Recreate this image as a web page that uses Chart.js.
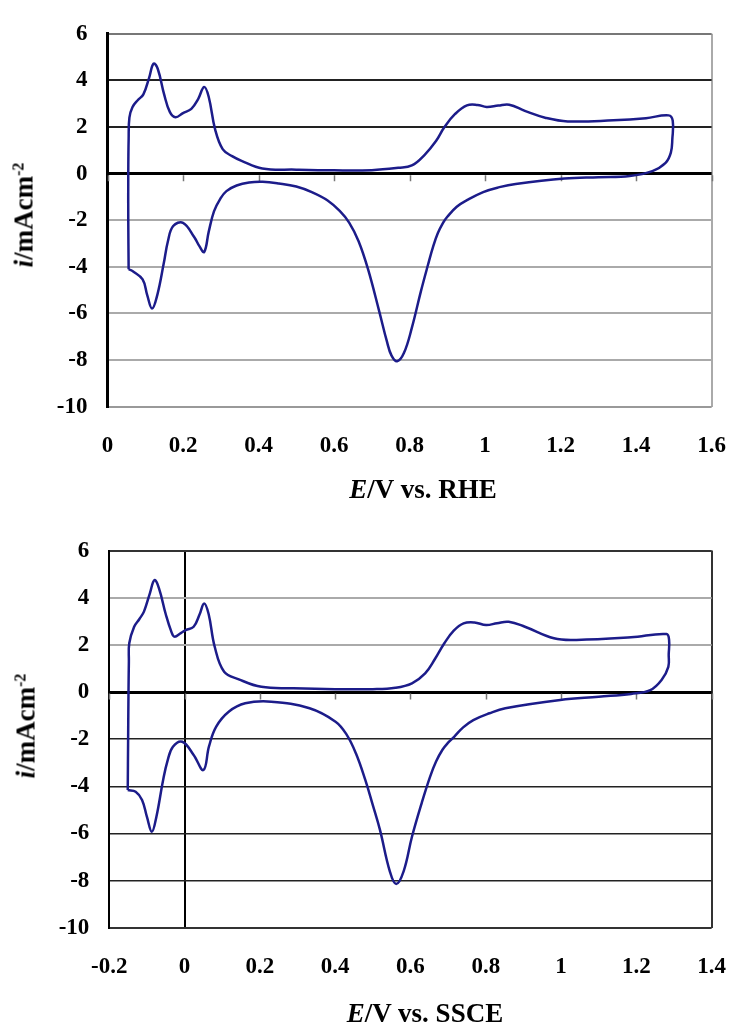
<!DOCTYPE html>
<html lang="en">

<head>
    <meta charset="UTF-8">
    <meta name="viewport" content="width=device-width, initial-scale=1.0">
    <title>CV</title>
    <script src="https://cdn.jsdelivr.net/npm/chart.js"></script>
    <style>
        body { margin: 0; background: #fff; width: 752px; height: 1028px; position: relative; overflow: hidden; }
        canvas { position: absolute; left: 0; }
        .titulo { position: absolute; font-family: "Liberation Serif", "Times New Roman", serif; font-weight: bold; font-size: 27px; color: #000; white-space: nowrap; transform: translate(-50%, -50%); }
        .tituloY { transform: translate(-50%, -50%) rotate(-90deg); }
        .titulo i { font-style: italic; }
        .titulo sup { font-size: 16px; vertical-align: 9px; }
    </style>
</head>

<body>
    <canvas id="grafico1" width="752" height="515" style="top:0"></canvas>
    <canvas id="grafico2" width="752" height="513" style="top:515px"></canvas>

    <div class="titulo" style="left:423px; top:489px"><i>E</i>/V vs. RHE</div>
    <div class="titulo tituloY" style="left:24px; top:215px"><i>i</i>/mAcm<sup>-2</sup></div>
    <div class="titulo" style="left:425px; top:1013px"><i>E</i>/V vs. SSCE</div>
    <div class="titulo tituloY" style="left:26px; top:726px"><i>i</i>/mAcm<sup>-2</sup></div>

    <script>
        // top plot, potential vs RHE
        const rheE = [0.056, 0.055, 0.055, 0.056, 0.058, 0.066, 0.080, 0.095, 0.110, 0.122, 0.133, 0.150, 0.165, 0.180, 0.200,
            0.222, 0.240, 0.256, 0.268, 0.285, 0.305, 0.330, 0.355, 0.410, 0.500, 0.600, 0.700, 0.770, 0.806, 0.840,
            0.870, 0.892, 0.920, 0.952, 0.980, 1.004, 1.035, 1.064, 1.107, 1.159, 1.219, 1.340, 1.426, 1.486,
            1.497, 1.496, 1.492, 1.478, 1.443, 1.383, 1.300, 1.210, 1.081, 1.038, 0.995, 0.952, 0.925, 0.900, 0.889,
            0.875, 0.862, 0.849, 0.830, 0.806, 0.785, 0.767, 0.752, 0.740, 0.720, 0.690, 0.665, 0.640, 0.615, 0.583, 0.541,
            0.500, 0.454, 0.411, 0.375, 0.342, 0.315, 0.299, 0.282, 0.268, 0.256, 0.243, 0.230, 0.200, 0.174, 0.160,
            0.149, 0.132, 0.118, 0.105, 0.093, 0.067, 0.056];
        const rheI = [-4.1, -2.0, 0.0, 1.5, 2.4, 2.85, 3.15, 3.4, 4.1, 4.72, 4.5, 3.4, 2.65, 2.42, 2.6,
            2.78, 3.2, 3.72, 3.3, 1.9, 1.05, 0.75, 0.55, 0.22, 0.17, 0.14, 0.15, 0.25, 0.35, 0.81,
            1.4, 1.99, 2.55, 2.93, 2.95, 2.86, 2.92, 2.96, 2.68, 2.4, 2.24, 2.29, 2.38, 2.5,
            2.27, 1.5, 0.9, 0.46, 0.11, -0.1, -0.15, -0.21, -0.44, -0.58, -0.79, -1.14, -1.42, -1.85, -2.1,
            -2.55, -3.15, -3.9, -5.05, -6.62, -7.7, -8.05, -7.8, -7.2, -5.93, -4.1, -2.9, -2.1, -1.6, -1.15, -0.79,
            -0.55, -0.42, -0.35, -0.38, -0.51, -0.75, -1.07, -1.62, -2.5, -3.36, -3.1, -2.73, -2.11, -2.25, -2.9,
            -3.85, -5.2, -5.79, -5.2, -4.54, -4.19, -4.1];

        // bottom plot, potential vs SSCE
        const ssceE = [-0.151, -0.150, -0.149, -0.148, -0.147, -0.134, -0.120, -0.108, -0.092, -0.080, -0.068, -0.050, -0.035,
            -0.027, -0.010, 0.003, 0.024, 0.040, 0.052, 0.064, 0.080, 0.105, 0.144, 0.204, 0.289, 0.400, 0.500,
            0.560, 0.604, 0.639, 0.665, 0.690, 0.715, 0.741, 0.770, 0.801, 0.830, 0.861, 0.904, 0.981, 1.041,
            1.186, 1.280, 1.287, 1.286, 1.285, 1.267, 1.237, 1.186, 1.100, 0.998, 0.852, 0.810, 0.767, 0.740, 0.716,
            0.700, 0.685, 0.668, 0.652, 0.630, 0.604, 0.582, 0.562, 0.545, 0.519, 0.500, 0.480, 0.455, 0.430, 0.401,
            0.332, 0.230, 0.161, 0.118, 0.084, 0.065, 0.050, 0.024, -0.006, -0.031, -0.045, -0.057, -0.075, -0.087,
            -0.100, -0.113, -0.130, -0.151];
        const ssceI = [-4.16, -2.0, 0.0, 1.3, 2.07, 2.77, 3.1, 3.41, 4.2, 4.75, 4.4, 3.3, 2.55,
            2.35, 2.5, 2.63, 2.77, 3.3, 3.76, 3.3, 1.92, 0.86, 0.54, 0.22, 0.16, 0.12, 0.12,
            0.18, 0.37, 0.79, 1.4, 2.07, 2.6, 2.91, 2.95, 2.84, 2.92, 2.98, 2.77, 2.28, 2.21,
            2.32, 2.46, 2.21, 1.6, 1.07, 0.51, 0.08, -0.08, -0.2, -0.34, -0.69, -0.9, -1.19, -1.5, -1.9,
            -2.15, -2.45, -2.95, -3.6, -4.7, -6.14, -7.6, -8.15, -7.6, -5.85, -4.8, -3.73, -2.6, -1.8, -1.26,
            -0.69, -0.41, -0.48, -0.83, -1.47, -2.3, -3.31, -2.67, -2.11, -2.32, -2.9, -3.73, -5.3, -5.93,
            -5.3, -4.58, -4.23, -4.16];

        const fonteTicks = { family: "'Liberation Serif', 'Times New Roman', serif", size: 23, weight: 'bold' };
        const corCurva = '#1c1c8a';

        function montarPontos(listaE, listaI) {
            let pontos = [];
            for (var index = 0; index < listaE.length; index++) {
                pontos.push({ x: listaE[index], y: listaI[index] });
            }
            return pontos;
        }

        // 1.0 -> "1", -0.0 -> "0"
        function formatarTick(valor) {
            return Number(valor.toFixed(1)).toString();
        }

        // small tick marks hanging under the i = 0 line, like Excel
        const marcasNoZero = {
            id: 'marcasNoZero',
            beforeDatasetsDraw(chart) {
                const sx = chart.scales.x;
                const y0 = chart.scales.y.getPixelForValue(0);
                const c = chart.ctx;
                c.save();
                c.strokeStyle = '#777';
                c.lineWidth = 1.5;
                c.beginPath();
                sx.ticks.forEach(function (t) {
                    const px = Math.round(sx.getPixelForValue(t.value)) + 0.5;
                    c.moveTo(px, y0 + 1.5);
                    c.lineTo(px, y0 + 7.5);
                });
                c.stroke();
                c.restore();
            }
        };

        function plotarGrafico(id, pontos, cfg) {
            const ctx = document.getElementById(id).getContext('2d');
            new Chart(ctx, {
                type: 'scatter',
                data: {
                    datasets: [{
                        data: pontos,
                        showLine: true,
                        borderColor: corCurva,
                        borderWidth: 2.5,
                        pointRadius: 0,
                        tension: 0.4,
                        fill: false
                    }]
                },
                plugins: [marcasNoZero],
                options: {
                    responsive: false,
                    animation: false,
                    layout: { padding: { top: cfg.padTop, right: cfg.padRight, left: 0, bottom: 0 } },
                    plugins: { legend: { display: false }, tooltip: { enabled: false } },
                    scales: {
                        x: {
                            type: 'linear',
                            position: 'bottom',
                            min: cfg.xMin,
                            max: cfg.xMax,
                            ticks: { stepSize: 0.2, color: '#000', font: fonteTicks, padding: 26, maxRotation: 0, callback: formatarTick },
                            grid: {
                                drawTicks: false,
                                color: (c) => cfg.corX(c.tick.value),
                                lineWidth: 2
                            },
                            border: { display: false },
                            afterFit: (s) => { s.height = cfg.alturaX; }
                        },
                        y: {
                            min: -10,
                            max: 6,
                            ticks: { stepSize: 2, color: '#000', font: fonteTicks, padding: 20 },
                            grid: {
                                drawTicks: false,
                                color: (c) => cfg.corY(c.tick.value)[0],
                                lineWidth: (c) => cfg.corY(c.tick.value)[1]
                            },
                            border: { color: '#000', width: cfg.bordaY },
                            afterFit: (s) => { s.width = cfg.larguraY; }
                        }
                    }
                }
            });
        }

        plotarGrafico('grafico1', montarPontos(rheE, rheI), {
            xMin: 0, xMax: 1.6, padTop: 23.7, padRight: 25.3, alturaX: 108.3, larguraY: 107.5, bordaY: 3,
            corX: (v) => Math.abs(v - 1.6) < 1e-6 ? '#aaa' : 'rgba(0,0,0,0)',
            corY: (v) => {
                if (v == 0) return ['#000', 3];
                if (v == 6) return ['#777', 2];
                if (v == 4 || v == 2) return ['#222', 2];
                if (v == -10) return ['#999', 2];
                return ['#aaa', 2];
            }
        });

        plotarGrafico('grafico2', montarPontos(ssceE, ssceI), {
            xMin: -0.2, xMax: 1.4, padTop: 35.6, padRight: 19.3, alturaX: 100.3, larguraY: 109.3, bordaY: 2,
            corX: (v) => {
                if (Math.abs(v) < 1e-6) return '#000';
                if (Math.abs(v - 1.4) < 1e-6) return '#333';
                return 'rgba(0,0,0,0)';
            },
            corY: (v) => {
                if (v == 0) return ['#000', 3];
                if (v == 4 || v == 2) return ['#aaa', 2];
                if (v == 6 || v == -10) return ['#333', 2];
                return ['#222', 1.5];
            }
        });
    </script>
</body>

</html>
